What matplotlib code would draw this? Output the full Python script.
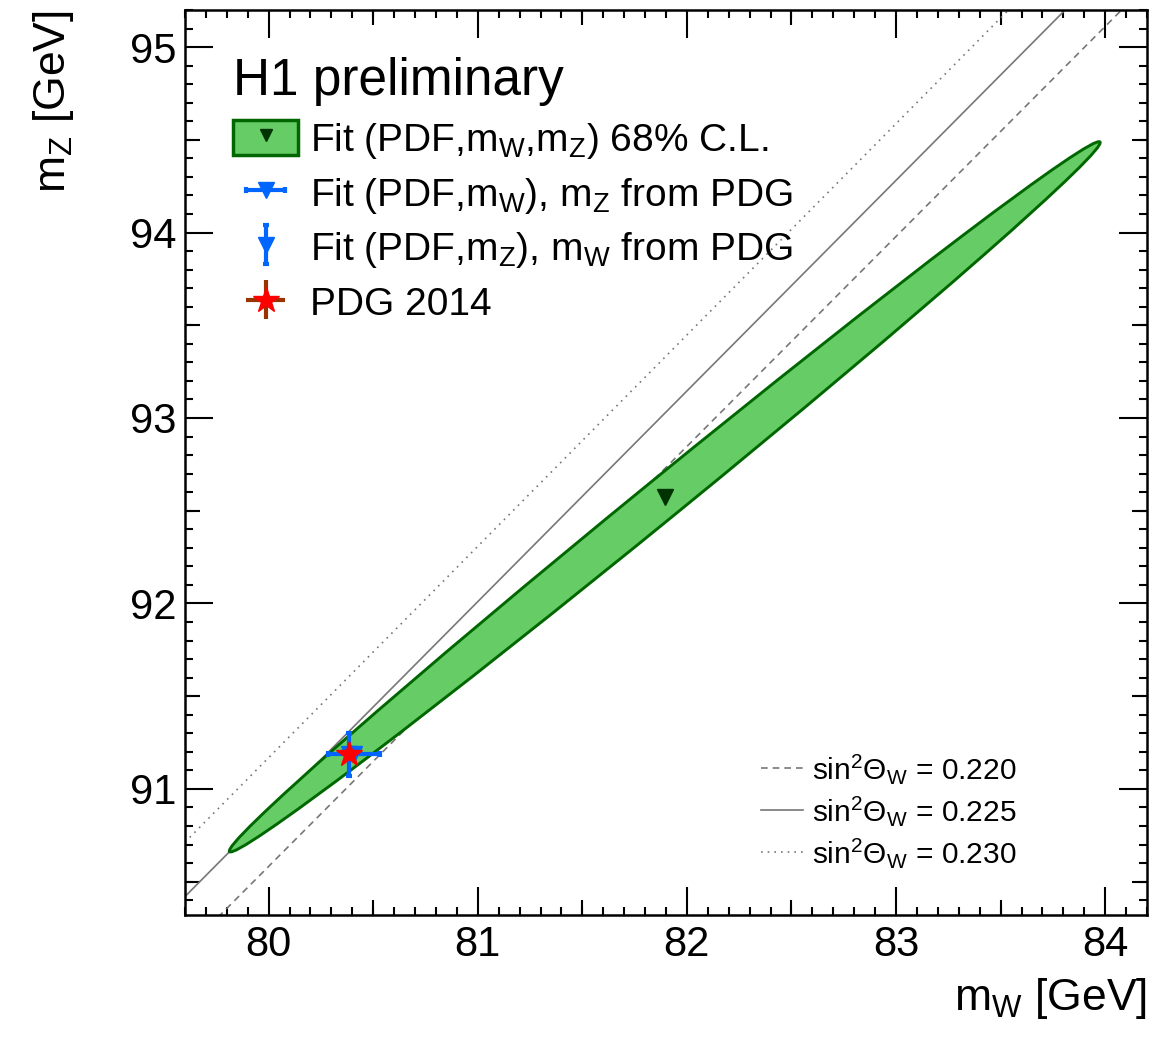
import numpy as np
import matplotlib
matplotlib.use('Agg')
import matplotlib.pyplot as plt
from matplotlib.patches import Patch, Ellipse
from matplotlib.legend_handler import HandlerTuple
from matplotlib.ticker import MultipleLocator

plt.rcParams['font.family'] = ['Liberation Sans', 'DejaVu Sans']
plt.rcParams['mathtext.fontset'] = 'custom'
plt.rcParams['mathtext.rm'] = 'Liberation Sans'
plt.rcParams['mathtext.it'] = 'Liberation Sans'
plt.rcParams['mathtext.bf'] = 'Liberation Sans:bold'

# (PDF, mW, mZ) fit: best point and 68% C.L. ellipse
fit_mw, fit_mz = 81.894, 92.575
ell_major, ell_minor, ell_angle = 5.654, 0.206, 42.6   # full axes [GeV], degrees

# fit of mW with mZ from PDG, fit of mZ with mW from PDG
fitw_mw, fitw_mz, fitw_err = 80.408, 91.1876, 0.124
fitz_mw, fitz_mz, fitz_err = 80.385, 91.186, 0.116

# PDG 2014
pdg_mw, pdg_mw_err = 80.385, 0.015
pdg_mz, pdg_mz_err = 91.1876, 0.0021

sin2 = [0.220, 0.225, 0.230]
sin2_dashes = [(4, 3), (), (1, 3)]

green_fill = '#66cc66'
green_edge = '#006600'
blue = '#0066ff'
brown = '#993300'
grey = '#777777'

fig = plt.figure(figsize=(11.61, 10.43), dpi=100)
ax = fig.add_axes([185 / 1161, 1 - 915 / 1043, 962 / 1161, 905 / 1043])
ax.set_xlim(79.6, 84.2)
ax.set_ylim(90.32, 95.2)

# lines of constant sin^2 theta_W : mZ = mW / sqrt(1 - sin2)
mw_line = np.array([79.6, 84.2])
line_handles = []
for s, d in zip(sin2, sin2_dashes):
    h, = ax.plot(mw_line, mw_line / np.sqrt(1 - s), color=grey, lw=1.2)
    if d:
        h.set_dashes(d)
    line_handles.append(h)

ax.add_patch(Ellipse((fit_mw, fit_mz), ell_major, ell_minor, angle=ell_angle,
                     facecolor=green_fill, edgecolor=green_edge, lw=2.1, zorder=3))
fit_marker, = ax.plot([fit_mw], [fit_mz], 'v', color='#003300', ms=12, zorder=4)

eb_w = ax.errorbar([fitw_mw], [fitw_mz], xerr=[fitw_err], fmt='v', color=blue, ms=11,
                   elinewidth=3, capsize=2.5, capthick=3, zorder=5)
eb_z = ax.errorbar([fitz_mw], [fitz_mz], yerr=[fitz_err], fmt='v', color=blue, ms=11,
                   elinewidth=3, capsize=2.5, capthick=3, zorder=5)
eb_pdg = ax.errorbar([pdg_mw], [pdg_mz], xerr=[pdg_mw_err], yerr=[pdg_mz_err], fmt='*',
                     color=brown, mfc='red', mec='red', ms=19, elinewidth=3, zorder=6)

# ticks, ROOT style
ax.xaxis.set_major_locator(MultipleLocator(1))
ax.yaxis.set_major_locator(MultipleLocator(1))
ax.xaxis.set_minor_locator(MultipleLocator(0.1))
ax.yaxis.set_minor_locator(MultipleLocator(0.1))
ax.tick_params(which='both', direction='in', top=True, right=True, width=1.5)
ax.tick_params(which='major', length=20, labelsize=30)
ax.tick_params(axis='x', which='major', pad=7)
ax.tick_params(axis='y', which='major', pad=6)
ax.tick_params(which='minor', length=5.5)
for sp in ax.spines.values():
    sp.set_linewidth(1.8)

half_x = [80.5, 81.5, 82.5, 83.5]
half_y = [90.5, 91.5, 92.5, 93.5, 94.5]
for side in ['bottom', 'top']:
    sec = ax.secondary_xaxis(side)
    sec.set_xticks(half_x)
    sec.tick_params(direction='in', length=10.5, width=1.5, labelbottom=False, labeltop=False)
    for sp in sec.spines.values():
        sp.set_visible(False)
for side in ['left', 'right']:
    sec = ax.secondary_yaxis(side)
    sec.set_yticks(half_y)
    sec.tick_params(direction='in', length=10.5, width=1.5, labelleft=False, labelright=False)
    for sp in sec.spines.values():
        sp.set_visible(False)

ax.set_xlabel(r'm$_\mathrm{W}$ [GeV]', fontsize=32, loc='right', labelpad=8)
ax.set_ylabel(r'm$_\mathrm{Z}$ [GeV]', fontsize=32, loc='top', labelpad=39)

leg1 = ax.legend([(Patch(facecolor=green_fill, edgecolor=green_edge, lw=2.5),
                   ax.plot([], [], 'v', color='#003300', ms=9)[0]),
                  eb_w, eb_z, eb_pdg],
                 [r'Fit (PDF,m$_\mathrm{W}$,m$_\mathrm{Z}$) 68% C.L.',
                  r'Fit (PDF,m$_\mathrm{W}$), m$_\mathrm{Z}$ from PDG',
                  r'Fit (PDF,m$_\mathrm{Z}$), m$_\mathrm{W}$ from PDG',
                  'PDG 2014'],
                 handler_map={tuple: HandlerTuple(ndivide=1)},
                 loc='upper left', bbox_to_anchor=(0.05, 0.948), frameon=False,
                 fontsize=28, title='H1 preliminary', title_fontsize=37,
                 alignment='left', handlelength=1.67, handleheight=1.0,
                 handletextpad=0.3, labelspacing=0.36, borderpad=0, borderaxespad=0)
ax.add_artist(leg1)

ax.legend(line_handles,
          [r'sin$^2$Θ$_\mathrm{W}$ = %.3f' % s for s in sin2],
          loc='lower left', bbox_to_anchor=(0.599, 0.05), frameon=False,
          fontsize=21.5, handlelength=1.4, handletextpad=0.3, labelspacing=0.27,
          borderpad=0, borderaxespad=0)

fig.savefig('out.png', dpi=100)
